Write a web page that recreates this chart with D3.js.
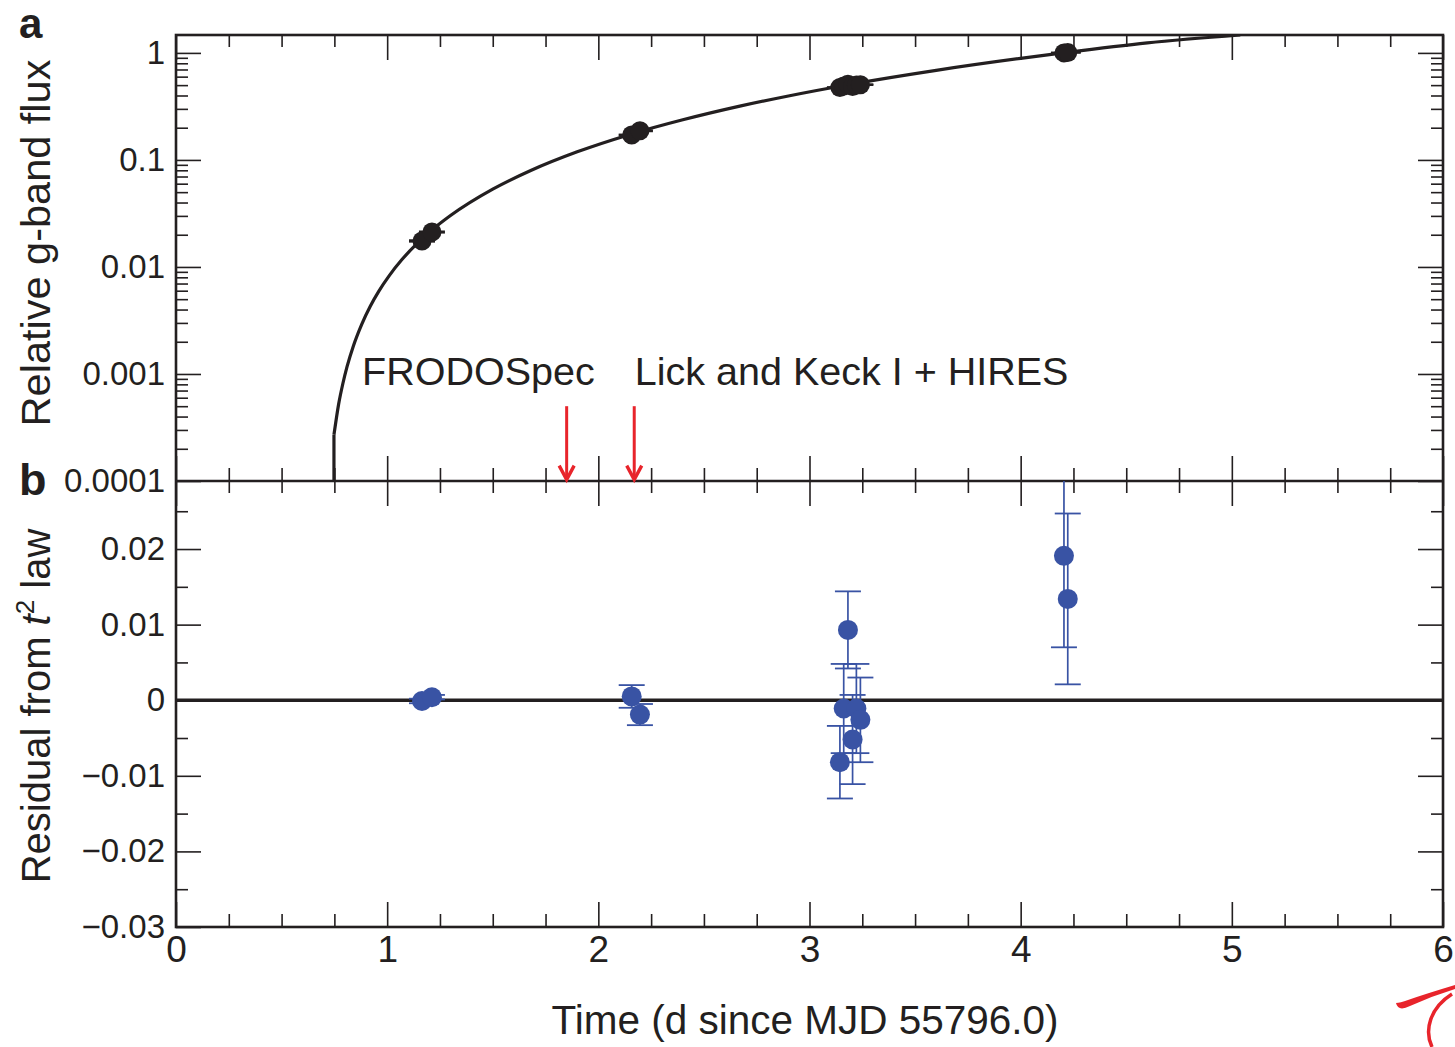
<!DOCTYPE html>
<html><head><meta charset="utf-8">
<script src="https://cdn.jsdelivr.net/npm/d3@7"></script>
<style>
html,body{margin:0;padding:0;background:#fff;}
svg text{font-family:"Liberation Sans",Arial,Helvetica,sans-serif;fill:#231f20;}
</style></head>
<body>
<svg id="chart" width="1455" height="1047"></svg>
<script>
// ---- data ----
const obsTime = [1.165, 1.212, 2.158, 2.197, 3.144, 3.162, 3.182, 3.204, 3.222, 3.241, 4.205, 4.223];
const obsFlux = [0.0175, 0.0212, 0.171, 0.187, 0.475, 0.49, 0.51, 0.485, 0.50, 0.505, 1.0, 1.01];
const obsFluxErr = [0.0003, 0.0003, 0.002, 0.002, 0.005, 0.005, 0.005, 0.005, 0.005, 0.005, 0.01, 0.01];
const residual = [-0.0001, 0.0004, 0.0005, -0.0019, -0.0082, -0.0011, 0.0093, -0.0052, -0.0011, -0.0026, 0.0191, 0.0134];
const residualErr = [0.0003, 0.0003, 0.0015, 0.0014, 0.0048, 0.0059, 0.0051, 0.0059, 0.0059, 0.0056, 0.0121, 0.0113];
const fitTime = [0.748, 0.748, 0.77, 0.79, 0.81, 0.84, 0.88, 0.92, 0.96, 1.01, 1.07, 1.14, 1.22, 1.3, 1.5, 1.68, 1.9, 2.15, 2.4, 2.67, 2.9, 3.19, 3.6, 4.0, 4.2, 4.6, 5.04];
const fitFlux = [0.0001, 0.00027, 0.00052, 0.00081, 0.00117, 0.00183, 0.00293, 0.0043, 0.00592, 0.0083, 0.01172, 0.0164, 0.0228, 0.0302, 0.0533, 0.0796, 0.119, 0.173, 0.237, 0.318, 0.396, 0.507, 0.687, 0.889, 1.0, 1.24, 1.47];
const arrowTime = [1.85, 2.17];
const arrowFrom = 0.0005, arrowTo = 0.000103;
const annotations = [{t: 0.881, f: 0.00079, text: "FRODOSpec"}, {t: 2.173, f: 0.00079, text: "Lick and Keck I + HIRES"}];
const xMajor = [0, 1, 2, 3, 4, 5, 6];
const xMinor = d3.range(0, 6.001, 0.25).filter(v => Math.abs(v - Math.round(v)) > 1e-6);
const fluxMajor = [0.0001, 0.001, 0.01, 0.1, 1];
const fluxLabels = ["0.0001", "0.001", "0.01", "0.1", "1"];
const resMajor = [-0.03, -0.02, -0.01, 0, 0.01, 0.02];
const resLabels = ["\u22120.03", "\u22120.02", "\u22120.01", "0", "0.01", "0.02"];
const resMinor = [-0.025, -0.015, -0.005, 0.005, 0.015, 0.025];

// ---- layout ----
const L = 176, R = 1443, T = 35, M = 481, B = 927;
const ink = "#231f20", blue = "#3953a4", red = "#e8242b";
const svg = d3.select("#chart");

const x = d3.scaleLinear().domain([0, 6]).range([L, R]);
const yTop = d3.scaleLog().domain([0.0001, 1.47]).range([M, T]);
const yBot = d3.scaleLinear().domain([-0.03, 0.029]).range([B, M]);

const fluxMinor = [];
[0.0001, 0.001, 0.01, 0.1, 1].forEach(d => { for (let k = 2; k <= 9; k++) { const v = d * k; if (v <= 1.47) fluxMinor.push(v); } });

function styleAxis(g) {
  g.select(".domain").remove();
  g.selectAll(".tick line").attr("stroke", ink).attr("stroke-width", 1.6);
  g.selectAll(".tick text").attr("fill", ink).attr("font-family", '"Liberation Sans",Arial,sans-serif');
}

svg.append("clipPath").attr("id", "clipTop").append("rect").attr("x", L).attr("y", T).attr("width", R - L).attr("height", M - T);
svg.append("clipPath").attr("id", "clipBot").append("rect").attr("x", L).attr("y", M).attr("width", R - L).attr("height", B - M);

// ---- x axes (inward ticks on every horizontal edge) ----
svg.append("g").attr("transform", `translate(0,${T})`).call(d3.axisTop(x).tickValues(xMajor).tickSize(-25).tickFormat("")).call(styleAxis);
svg.append("g").attr("transform", `translate(0,${T})`).call(d3.axisTop(x).tickValues(xMinor).tickSize(-12).tickFormat("")).call(styleAxis);
svg.append("g").attr("transform", `translate(0,${M})`).call(d3.axisBottom(x).tickValues(xMajor).tickSize(-25).tickFormat("")).call(styleAxis);
svg.append("g").attr("transform", `translate(0,${M})`).call(d3.axisBottom(x).tickValues(xMinor).tickSize(-13).tickFormat("")).call(styleAxis);
svg.append("g").attr("transform", `translate(0,${M})`).call(d3.axisTop(x).tickValues(xMajor).tickSize(-25).tickFormat("")).call(styleAxis);
svg.append("g").attr("transform", `translate(0,${M})`).call(d3.axisTop(x).tickValues(xMinor).tickSize(-12).tickFormat("")).call(styleAxis);
svg.append("g").attr("transform", `translate(0,${B})`).call(d3.axisBottom(x).tickValues(xMajor).tickSize(-25).tickPadding(9).tickFormat(d3.format("d"))).call(styleAxis)
  .selectAll(".tick text").attr("font-size", 37);
svg.append("g").attr("transform", `translate(0,${B})`).call(d3.axisBottom(x).tickValues(xMinor).tickSize(-13).tickFormat("")).call(styleAxis);

// ---- y axes ----
svg.append("g").attr("transform", `translate(${L},0)`).call(d3.axisLeft(yTop).tickValues(fluxMajor).tickSize(-25).tickPadding(11).tickFormat((d, i) => fluxLabels[i])).call(styleAxis)
  .selectAll(".tick text").attr("font-size", 33);
svg.append("g").attr("transform", `translate(${L},0)`).call(d3.axisLeft(yTop).tickValues(fluxMinor).tickSize(-12).tickFormat("")).call(styleAxis);
svg.append("g").attr("transform", `translate(${R},0)`).call(d3.axisRight(yTop).tickValues(fluxMajor).tickSize(-25).tickFormat("")).call(styleAxis);
svg.append("g").attr("transform", `translate(${R},0)`).call(d3.axisRight(yTop).tickValues(fluxMinor).tickSize(-12).tickFormat("")).call(styleAxis);

svg.append("g").attr("transform", `translate(${L},0)`).call(d3.axisLeft(yBot).tickValues(resMajor).tickSize(-25).tickPadding(11).tickFormat((d, i) => resLabels[i])).call(styleAxis)
  .selectAll(".tick text").attr("font-size", 33);
svg.append("g").attr("transform", `translate(${L},0)`).call(d3.axisLeft(yBot).tickValues(resMinor).tickSize(-12).tickFormat("")).call(styleAxis);
svg.append("g").attr("transform", `translate(${R},0)`).call(d3.axisRight(yBot).tickValues(resMajor.slice(1)).tickSize(-25).tickFormat("")).call(styleAxis);
svg.append("g").attr("transform", `translate(${R},0)`).call(d3.axisRight(yBot).tickValues(resMinor).tickSize(-12).tickFormat("")).call(styleAxis);

// frames
svg.append("rect").attr("x", L).attr("y", T).attr("width", R - L).attr("height", B - T)
  .attr("fill", "none").attr("stroke", ink).attr("stroke-width", 2.6);
svg.append("line").attr("x1", L).attr("x2", R).attr("y1", M).attr("y2", M).attr("stroke", ink).attr("stroke-width", 2.6);

// ---- panel a: fit curve ----
const fitPts = fitTime.map((t, i) => [t, fitFlux[i]]);
const lineLin = d3.line().x(d => x(d[0])).y(d => yTop(d[1]));
const lineSmooth = d3.line().x(d => x(d[0])).y(d => yTop(d[1])).curve(d3.curveMonotoneX);
svg.append("path").datum(fitPts.slice(0, 2)).attr("clip-path", "url(#clipTop)").attr("d", lineLin)
  .attr("fill", "none").attr("stroke", ink).attr("stroke-width", 3.2);
svg.append("path").datum(fitPts.slice(1)).attr("clip-path", "url(#clipTop)").attr("d", lineSmooth)
  .attr("fill", "none").attr("stroke", ink).attr("stroke-width", 3.2).attr("stroke-linejoin", "round");

// panel a points + error bars
const gA = svg.append("g").attr("clip-path", "url(#clipTop)");
obsTime.forEach((t, i) => {
  const cx = x(t);
  const y1 = yTop(obsFlux[i] + obsFluxErr[i]), y2 = yTop(obsFlux[i] - obsFluxErr[i]);
  gA.append("line").attr("x1", cx).attr("x2", cx).attr("y1", y1).attr("y2", y2).attr("stroke", ink).attr("stroke-width", 1.6);
  [y1, y2].forEach(yy => gA.append("line").attr("x1", cx - 13).attr("x2", cx + 13).attr("y1", yy).attr("y2", yy).attr("stroke", ink).attr("stroke-width", 1.8));
});
gA.selectAll("circle").data(obsTime).join("circle")
  .attr("cx", d => x(d)).attr("cy", (d, i) => yTop(obsFlux[i])).attr("r", 9.5).attr("fill", ink);

// arrows
arrowTime.forEach(t => {
  const ax = x(t), ya = yTop(arrowFrom), yb = yTop(arrowTo);
  svg.append("line").attr("x1", ax).attr("x2", ax).attr("y1", ya).attr("y2", yb - 2).attr("stroke", red).attr("stroke-width", 3);
  svg.append("path").attr("d", `M${ax - 7.5},${yb - 14} L${ax},${yb} L${ax + 7.5},${yb - 14}`)
    .attr("fill", "none").attr("stroke", red).attr("stroke-width", 3.4).attr("stroke-linejoin", "miter");
});
annotations.forEach(a => {
  svg.append("text").attr("x", x(a.t)).attr("y", yTop(a.f)).attr("font-size", 39.5).text(a.text);
});

// ---- panel b ----
svg.append("line").attr("x1", L).attr("x2", R).attr("y1", yBot(0)).attr("y2", yBot(0)).attr("stroke", ink).attr("stroke-width", 3.4);
const gB = svg.append("g").attr("clip-path", "url(#clipBot)");
obsTime.forEach((t, i) => {
  const cx = x(t);
  const y1 = yBot(residual[i] + residualErr[i]), y2 = yBot(residual[i] - residualErr[i]);
  gB.append("line").attr("x1", cx).attr("x2", cx).attr("y1", y1).attr("y2", y2).attr("stroke", blue).attr("stroke-width", 1.7);
  [y1, y2].forEach(yy => gB.append("line").attr("x1", cx - 13).attr("x2", cx + 13).attr("y1", yy).attr("y2", yy).attr("stroke", blue).attr("stroke-width", 1.8));
});
gB.selectAll("circle").data(obsTime).join("circle")
  .attr("cx", d => x(d)).attr("cy", (d, i) => yBot(residual[i])).attr("r", 10).attr("fill", blue);

// ---- titles ----
svg.append("text").attr("transform", `translate(50,243) rotate(-90)`).attr("text-anchor", "middle")
  .attr("font-size", 41.5).text("Relative g-band flux");
const rt = svg.append("text").attr("transform", `translate(50,${(M + B) / 2 + 2}) rotate(-90)`).attr("text-anchor", "middle").attr("font-size", 40);
rt.append("tspan").text("Residual from ");
rt.append("tspan").attr("font-style", "italic").text("t");
rt.append("tspan").attr("font-size", 26).attr("dy", -16).text("2");
rt.append("tspan").attr("dy", 16).text(" law");
svg.append("text").attr("x", 805).attr("y", 1034).attr("text-anchor", "middle").attr("font-size", 40.5).text("Time (d since MJD 55796.0)");

svg.append("text").attr("x", 19).attr("y", 38).attr("font-size", 42).attr("font-weight", "bold").text("a");
svg.append("text").attr("x", 19).attr("y", 495).attr("font-size", 45).attr("font-weight", "bold").text("b");

// red logo mark (corner)
svg.append("path").attr("d", "M1396,1003 Q1398,1012 1410,1006 Q1432,996 1455,989 L1455,985 Q1425,994 1408,1000 Q1400,1003 1396,1003 Z").attr("fill", red);
svg.append("path").attr("d", "M1452,994 C1430,1008 1424,1030 1432,1047").attr("fill", "none").attr("stroke", red).attr("stroke-width", 3.5);
</script>
</body></html>
